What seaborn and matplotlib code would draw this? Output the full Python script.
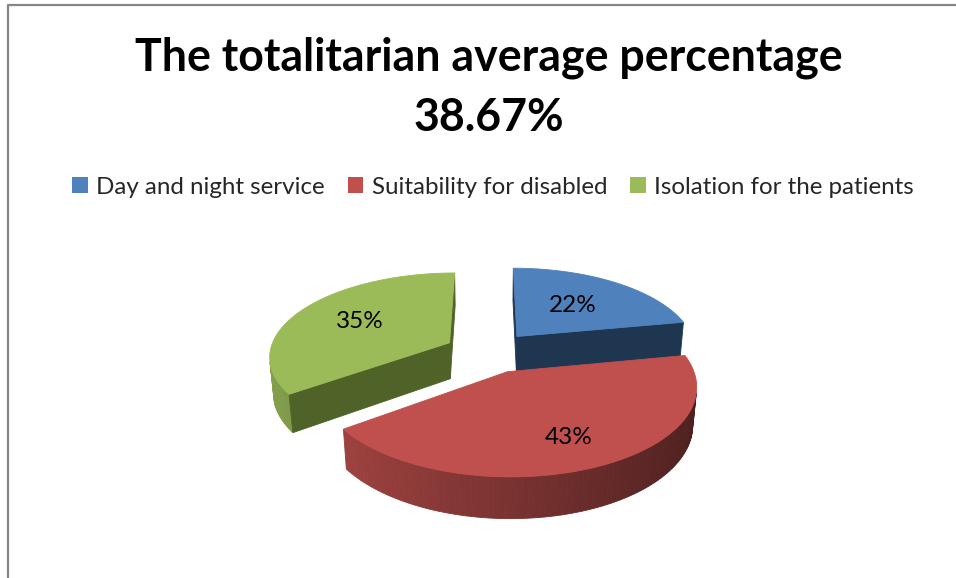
import numpy as np
import matplotlib
matplotlib.use("Agg")
import matplotlib.pyplot as plt
import seaborn as sns
from matplotlib.patches import Polygon, Patch

# ---------------- data ----------------
categories = ["Day and night service", "Suitability for disabled", "Isolation for the patients"]
values = [22, 43, 35]
value_labels = ["22%", "43%", "35%"]
title_lines = ["The totalitarian average percentage", "38.67%"]

# ---------------- style ----------------
top_colors = ["#4F81BD", "#C0504D", "#9BBB59"]
cut_colors = ["#1F3651", "#6E2C2A", "#4F6228"]
label_radius = [0.55, 0.72, 0.60]

sns.set_theme(style="white")
plt.rcParams['font.family'] = ['Lato', 'DejaVu Sans']

W, H = 956, 578
fig = plt.figure(figsize=(W / 100, H / 100), dpi=100)
ax = fig.add_axes([0, 0, 1, 1])
ax.set_xlim(0, W)
ax.set_ylim(H, 0)
ax.axis('off')

# frame lines (top and left, like the cropped chart area)
ax.plot([8, 8, W], [H, 5, 5], color="#868686", lw=1.6, solid_capstyle='butt')

# ---------------- projection ----------------
CX, CY = 489, 352
S = 180.0
phi = np.radians(27.4)
D = 5.92
h = 0.232
explode = 0.25
cam = np.array([0.0, -D * np.cos(phi), D * np.sin(phi)])


def proj(X, Y, Z):
    X = np.asarray(X, float); Y = np.asarray(Y, float); Z = np.asarray(Z, float)
    yv = Y * np.sin(phi) + Z * np.cos(phi)
    zv = -Y * np.cos(phi) + Z * np.sin(phi)
    s = D / (D - zv)
    return CX + S * X * s, CY - S * yv * s


def shade(color, f):
    rgb = np.array(matplotlib.colors.to_rgb(color))
    return tuple(np.clip(rgb * f, 0, 1))


def light(t):
    return 0.63 + 0.235 * np.cos(t - np.pi)


fracs = np.array(values, float) / np.sum(values)
starts = np.radians(90 - 360 * np.concatenate([[0], np.cumsum(fracs)[:-1]]))
ends = starts - np.radians(360 * fracs)

slices = []
for i in range(len(values)):
    a0, a1 = ends[i], starts[i]          # ccw range
    mid = 0.5 * (a0 + a1)
    ox, oy = explode * np.cos(mid), explode * np.sin(mid)
    slices.append((i, a0, a1, mid, ox, oy))

# painter order: farthest (largest Y of offset) first
slices.sort(key=lambda s: -s[5])

for i, a0, a1, mid, ox, oy in slices:
    base = top_colors[i]
    n = max(int(np.degrees(a1 - a0) / 1.5), 8)
    ts = np.linspace(a0, a1, n + 1)
    # curved side
    for t0, t1 in zip(ts[:-1], ts[1:]):
        tm = 0.5 * (t0 + t1)
        p = np.array([ox + np.cos(tm), oy + np.sin(tm), -h / 2])
        nrm = np.array([np.cos(tm), np.sin(tm), 0.0])
        if np.dot(nrm, cam - p) <= 0:
            continue
        xs = [ox + np.cos(t0), ox + np.cos(t1), ox + np.cos(t1), ox + np.cos(t0)]
        ys = [oy + np.sin(t0), oy + np.sin(t1), oy + np.sin(t1), oy + np.sin(t0)]
        zs = [0, 0, -h, -h]
        u, v = proj(xs, ys, zs)
        c = shade(base, light(tm))
        ax.add_patch(Polygon(np.column_stack([u, v]), closed=True, facecolor=c,
                             edgecolor=c, lw=0.6, antialiased=True))
    # radial cut faces
    for a, nang in ((a1, a1 + np.pi / 2), (a0, a0 - np.pi / 2)):
        nrm = np.array([np.cos(nang), np.sin(nang), 0.0])
        p = np.array([ox + 0.5 * np.cos(a), oy + 0.5 * np.sin(a), -h / 2])
        if np.dot(nrm, cam - p) <= 1e-6:
            continue
        xs = [ox, ox + np.cos(a), ox + np.cos(a), ox]
        ys = [oy, oy + np.sin(a), oy + np.sin(a), oy]
        zs = [0, 0, -h, -h]
        u, v = proj(xs, ys, zs)
        ax.add_patch(Polygon(np.column_stack([u, v]), closed=True,
                             facecolor=cut_colors[i], edgecolor=cut_colors[i], lw=0.6))
    # top face
    xs = np.concatenate([[ox], ox + np.cos(ts)])
    ys = np.concatenate([[oy], oy + np.sin(ts)])
    u, v = proj(xs, ys, np.zeros_like(xs))
    ax.add_patch(Polygon(np.column_stack([u, v]), closed=True, facecolor=base,
                         edgecolor=base, lw=0.6))
    # label
    r = label_radius[i]
    lu, lv = proj(ox + r * np.cos(mid), oy + r * np.sin(mid), 0.0)
    ax.text(lu, lv, value_labels[i], ha='center', va='center', fontsize=17.5, color='black')

# ---------------- title ----------------
fig.canvas.draw()
renderer = fig.canvas.get_renderer()


def fit_text(x, y, s, target_w, fs, **kw):
    t = ax.text(x, y, s, fontsize=fs, **kw)
    w = t.get_window_extent(renderer).width
    t.set_fontsize(fs * target_w / w)
    return t


t1 = fit_text(489, 58, title_lines[0], 706, 30, ha='center', va='center', fontweight='bold', color='black')
ax.text(489, 118, title_lines[1], ha='center', va='center', fontweight='bold', color='black',
        fontsize=t1.get_fontsize())

# ---------------- legend ----------------
probe = ax.text(0, 0, categories[0], fontsize=14)
lw_ = probe.get_window_extent(renderer).width
leg_fs = 14 * 229 / lw_
probe.remove()
handles = [Patch(facecolor=c, edgecolor='none') for c in top_colors]
leg = ax.legend(handles, categories, loc='center', bbox_to_anchor=(493 / W, 1 - 187 / H),
                ncol=3, frameon=False, fontsize=leg_fs, handlelength=0.65, handleheight=0.65,
                handletextpad=0.35, columnspacing=0.95, borderaxespad=0)

fig.savefig("out.png", dpi=100)
